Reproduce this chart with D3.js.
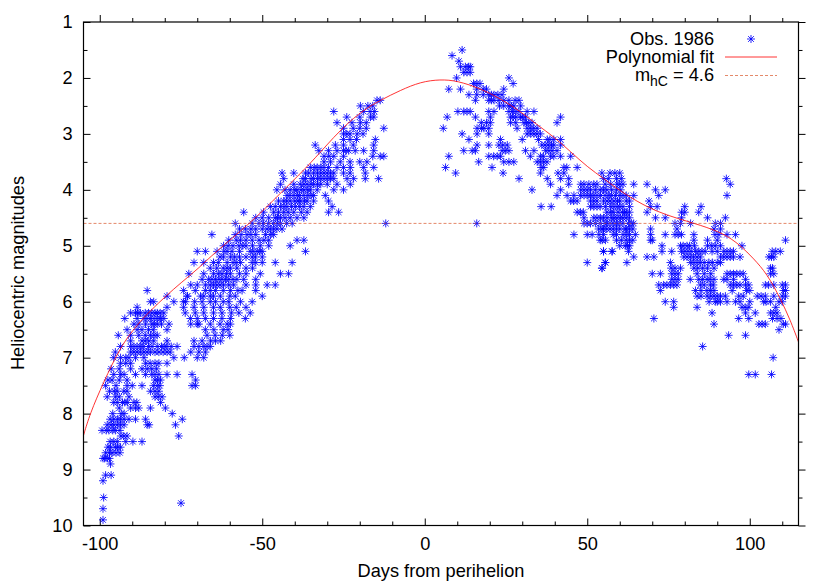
<!DOCTYPE html>
<html>
<head>
<meta charset="utf-8">
<script src="https://cdn.jsdelivr.net/npm/d3@7"></script>
<style>
    body { margin: 0; background: #fff; }
    text { font-family: "Liberation Sans", Arial, sans-serif; fill: #000; }
</style>
</head>
<body>
<div id="chart"></div>
<script>
// magnitudes were reported in 0.1 steps, so observations are kept per magnitude row
var preMags = [2.4,2.5,2.6,2.7,2.8,2.9,3.0,3.1,3.2,3.3,3.4,3.5,3.6,3.7,3.8,3.9,4.0,4.1,4.2,4.3,4.4,4.5,4.6,4.7,4.8,4.9,5.0,5.1,5.2,5.3,5.4,5.5,5.6,5.7,5.8,5.9,6.0,6.1,6.2,6.3,6.4,6.5,6.6,6.7,6.8,6.9,7.0,7.1,7.2,7.3,7.4,7.5,7.6,7.7,7.8,7.9,8.0,8.1,8.2,8.3,8.4,8.5,8.6,8.7,8.8,8.9,9.1,9.2,9.5,9.6,9.7,9.9]
var preDays = [
    [-14.7,-13.7],
    [-19.8,-17.5,-16],
    [-28,-18.8,-16.8,-15.5],
    [-24,-16.7,-15.7,-20],
    [-27,-22.4,-19.8,-18],
    [-25,-12.6,-18,-20,-22],
    [-25,-23,-20.8,-19,-24],
    [-25,-15.2,-23,-21],
    [-33.7,-27.5,-15.7,-25,-22],
    [-32.6,-29.6,-27,-23.4,-21.4,-18.8,-15.7,-25,-24.2],
    [-31,-28,-25,-13.7,-12.6,-16,-29.5],
    [-31,-29,-26,-17.8,-23,-20],
    [-35.2,-33.1,-31,-29.6,-22.9,-18.8,-15.7,-27,-25,-34,-32],
    [-43.9,-40.3,-35.7,-34.2,-32,-30,-28,-25,-23,-18.3,-36.7,-33,-31,-29],
    [-43.4,-36.7,-34.2,-32,-30,-23.9,-21.9,-18.3,-14.2,-35,-33,-28,-31,-29,-37.5],
    [-44.4,-40.3,-38.3,-36.2,-34.2,-30,-27,-22.9,-32,-35,-33,-37.2],
    [-45.5,-41.4,-39.3,-37.2,-35.2,-33.1,-28,-25,-43,-40,-38,-36],
    [-42.4,-40.3,-37.2,-34.2,-30.6,-38.5,-36,-41.5,-39.2,-35],
    [-43.4,-41.4,-38.3,-36.2,-34.2,-29.6,-40,-45,-42.5,-37,-39],
    [-47.5,-44.4,-42.4,-39.8,-37.2,-35.2,-28.5,-46,-41,-38.5,-43.3],
    [-55.7,-49.6,-46.5,-43.4,-40.3,-36.2,-29.6,-26.5,-38,-45,-42],
    [-52,-48,-44.4,-41.4,-39.3,-37.2,-46,-50,-43,-45.3],
    [-58.3,-53.1,-49.6,-46.5,-44.4,-40.8,-12,-42.5,-48,-51,-45.4],
    [-55.2,-52,-47.5,-45.5,-43.9,-50,-57,-53.5,-48.5,-46.5],
    [-65.5,-58.3,-54.7,-46.5,-52,-49,-56.5,-53.5,-47.5],
    [-60.3,-56.7,-53.1,-48,-39.3,-37.2,-51,-55,-58,-49.5],
    [-61.9,-57.2,-50.6,-48,-41.4,-55,-59,-53,-60.5,-56],
    [-70,-67.5,-63.9,-60.8,-59.3,-53.7,-51.6,-50,-36.7,-57,-52.8,-50.8,-61.8],
    [-61.9,-59.8,-53.1,-52.1,-57,-55,-50,-58.5,-63],
    [-71,-68,-65,-60.8,-56.7,-53.1,-46,-40.8,-59,-50,-63.5,-58,-52],
    [-66,-64,-59.8,-57.8,-62,-55,-60.8,-53],
    [-72.6,-68,-65,-62.4,-59.8,-50.6,-44.4,-41.9,-55,-57,-63.5,-61],
    [-66.5,-64.4,-62.4,-60.3,-57.8,-55.7,-68.5,-52,-65.5,-63.3,-61.3,-59],
    [-72,-67.5,-64,-61.9,-58.8,-52,-48.5,-46,-70,-55,-66,-63,-60.3,-65],
    [-74.2,-70.6,-66,-64.4,-59.8,-56.2,-52,-85.4,-62,-67.5,-57.5],
    [-73.1,-68,-62.9,-58.3,-50,-79.3,-73,-69,-66,-60,-65],
    [-74.2,-68.5,-64.4,-60.3,-53.1,-84.4,-77.2,-73.6,-56.7,-66,-70.8,-62,-83.4],
    [-74.2,-62.9,-88.5,-79.3,-68,-58,-55,-71,-65,-60],
    [-73.7,-70.6,-65,-62.4,-57.2,-53.7,-90.5,-89,-87.5,-82.3,-80.3,-86,-84,-88.3,-85,-83,-81.4,-68,-59.5],
    [-72.1,-67.5,-62.4,-59.8,-55.2,-92.3,-86.4,-84.4,-82.3,-80.3,-85.5,-83.3,-81.3,-88.5,-70,-65],
    [-72,-69.5,-59.8,-88,-85.9,-82.3,-78.7,-70,-60.8,-63,-84,-83.2,-81,-66,-89.5],
    [-91.6,-88.5,-79.3,-67.5,-64.9,-62,-85,-83.5,-87,-60.5],
    [-94.3,-90.5,-84.4,-82.3,-67,-62.3,-86,-64.5,-88,-83.3,-60],
    [-90.5,-84.9,-83.4,-79.3,-71,-65.9,-64.4,-87,-86,-68.5,-62.8],
    [-93.6,-90.5,-88.5,-83.9,-82.3,-79.3,-76.2,-71,-68,-86.5,-66,-89.5,-87.5,-85,-81,-80,-78,-69.5,-67],
    [-95.2,-90.5,-88.5,-86.4,-84.4,-81.8,-79.3,-72,-69.5,-67.5,-83,-87.5,-89.5,-85.4,-80.5,-78.3],
    [-95.7,-93.6,-92,-86.4,-77.2,-74,-70,-68,-91,-89],
    [-93.6,-90.5,-85.9,-79.3,-83,-84.5,-81.8,-92],
    [-87,-85.4,-82.5,-84,-96.5,-94,-90.5],
    [-95.7,-93.6,-89,-85.9,-81.8,-79.3,-76.2,-71.6,-84,-83,-92.5],
    [-96.2,-91.6,-81.3,-70.5,-94,-83,-82.2,-97.5],
    [-98.2,-91.6,-90,-87,-82.3,-71.6,-70.5,-95,-83.5,-81.5],
    [-94.6,-91.6,-84.4,-81.8,-97,-92.6,-95.5,-83],
    [-97.7,-95.2,-80.8,-83,-94,-82,-91],
    [-95.7,-94.6,-93,-89.5,-81.3,-91.5,-88.6,-92.3],
    [-90.5,-89,-84.4,-79.8,-94,-88],
    [-93.4,-77.7,-92.5,-96],
    [-95.7,-93.6,-91,-89,-85.9,-74.6,-94.5,-92.5,-96.8],
    [-97.7,-95.7,-93.6,-85.4,-76.7,-96.5,-84.8,-94.6,-92.5],
    [-99.3,-97.2,-95.2,-96,-98,-93.8],
    [-92.6,-91.6,-75.7,-93.5],
    [-95.7,-89.8,-87,-94.6,-92,-96.8],
    [-96.7,-95.2,-93.6,-97.5,-94.5],
    [-98.2,-96.2,-93.8,-97,-95],
    [-99,-97.7,-98.5,-97],
    [-96.7],
    [-98.2,-96.5],
    [-99],
    [-98.8],
    [-75],
    [-99],
    [-99]
]

var postMags = [1.5,1.6,1.7,1.8,1.9,2.0,2.1,2.2,2.3,2.4,2.5,2.6,2.7,2.8,2.9,3.0,3.1,3.2,3.3,3.4,3.5,3.6,3.7,3.8,3.9,4.0,4.1,4.2,4.3,4.4,4.5,4.6,4.7,4.8,4.9,5.0,5.1,5.2,5.3,5.4,5.5,5.6,5.7,5.8,5.9,6.0,6.1,6.2,6.3,6.4,6.5,6.6,6.8,7.0,7.3]
var postDays = [
    [11.5],
    [8.4],
    [10.5],
    [14,12.5,11,13.5],
    [12,14,13],
    [9.8,25.9],
    [27.2,17,15,16],
    [7.4,11,16,24.3,18,19],
    [13.6,16,19.7,21.3,23.8,18,20.5,22.5],
    [15.6,19.7,21.3,22.8,24.3,25.9,29,20.5,27.8],
    [24.3,25.9,27.4,29.5,23,26.6],
    [10.2,12,14,19.7,21.3,25.9,28,31.5,33.6,13,27,29],
    [6.9,15.6,20.2,26.4,28,29.5,41.8,31,27.2,30],
    [17.4,20.2,26.4,28,30.5,32,40.7,19,31.3,33],
    [5.7,16.1,18.2,19.7,28.4,32.5,34.6,31.5,33.5,17.5],
    [11.5,16.1,19.7,31.5,33.6,35.6,34.5,32.6],
    [13.6,23.3,30,37.7,39.7,41.8,35,38.5],
    [16.1,19.7,22.8,25.4,36,38,39.7,41.8,37,39,24],
    [12,14.6,23.8,25.9,31,33.6,37.2,39.2,40.7,15.6,24.8,38.2],
    [7.4,19.7,22.3,23.3,32.5,35.6,39.7,41.8,44.9,36.5,38.7,21.2],
    [16.6,24.3,25.9,27.4,34.6,36.6,35.6,37.6],
    [6.4,20.7,36.6,42.8,46.9,35.8,43.7],
    [9.5,24.1,35.6,41,42.8,57,60,54.5,58.5],
    [29,37.7,41.8,44.3,59,92.8,55,56.5,60.5],
    [38.7,44.3,49,52,57.2,59.2,61,64.3,68.4,94,48,50.5,53,55.5,60],
    [33,41.8,49,51,54,55,56,59,71,74,48,50,52.5,57.5,60.3],
    [40.7,43.8,45.9,47.9,50,52,54.1,56.6,58.7,60,62,64.3,72,93,49,51,53,55.5,57.5,61],
    [44.9,46.9,52,56.1,58.2,60,62,69,45.8,51,53,55,57,59.3,63],
    [35.8,38.9,51,53,57.2,59.2,61,63,69.5,71.5,80,85,52,54,55.6,58.2,60],
    [46.9,47.9,57.2,58,62,68.4,79,80,84.3,48.8,56,59.5,60.8,63,61.5],
    [49,52,54.1,56.1,59.2,61,63,71,74,79,87,92.5,53,55,57.5,58.3,60.2,62],
    [16,49,51,54,55.5,57,59,61,62.7,64.3,77,78.7,81.8,89.4,91,50,52.5,56,58,60,63.5],
    [54.6,55,57,59,60,61.7,63,69.5,77.6,89,91,53.5,56,58,62,64],
    [45.9,50,51.5,53.6,59,63,64.8,69.5,74,78,82.8,90.5,93,95.6,55,58,61,62,77,79,89.3],
    [54,59,54.6,63,70,82.8,87,90,111,60.5,62,69.5,55.6,64],
    [61.7,63,73,78.7,80.7,87,89.4,97.6,60,62.4,79.5,81.5,83,88.3,91],
    [55,57.7,55,57.6,62.7,73,76,79,81,83.3,85.3,88.4,94,106.9,109.4,80,82,84.3,86.3,90,92,93,95,108],
    [64.3,68.4,70.5,79.7,81.7,83.8,84.8,91,93,95,97,105.9,107.4,80.7,82.7,92,94,106.7],
    [50,55.6,55.5,62.2,75.6,82.8,84.8,87.4,90,81.8,83.8,86,88.5,91],
    [54.6,54.5,77,78.7,82.8,106.4,75.8,84,85.5,87,89,107],
    [70,72.5,77,93,95,97,98,106.4,76,78,83.8,86,88,94,96,107.4],
    [77,81.7,84.3,86.9,89,92,98.7,76,78,85.5,87.8,93,95],
    [72,73.5,75.6,77.6,84.8,87.9,94,96,99.7,104.8,107.4,111,74.5,76.6,86,88.8,95,97,98.7,105.8,110],
    [72.5,83.3,87.9,94.6,100,111,85,86.8,89,99,110.4],
    [83.8,86.9,90,92.5,96.6,102.3,104.8,107.4,111,85,88,89,91,98,103.5,110],
    [74,76.6,89.4,91,95.6,100,104.3,106.4,110,87.5,90,93,97,105,109],
    [76.6,83.8,97.6,99.7,98.6,108],
    [88.4,98.7,101.7,107.4,106.4,108.4],
    [70.5,96.6,99.7,108.4,107,109.6],
    [89,102.8,103.8,111,110.3,104.8],
    [109],
    [93.5,98.7],
    [85.5],
    [107.2],
    [99.7,101.7,106.7]
]

var fitDays = [-105,-103,-99,-93.6,-88.5,-84.4,-79.3,-75.2,-69.5,-65,-53.7,-44.4,-36.2,-31.1,-25,-18.8,-13.7,-7.5,-1.3,4.8,10,17.2,23.3,29.5,34.6,39.7,44.9,50,55.1,59.2,65.3,71.5,77.6,84.8,92,97.1,101.2,105.3,109.4,112.5,115]
var fitMags = [8.39,8.0,7.46,6.8,6.41,6.16,5.88,5.67,5.4,5.14,4.6,4.06,3.59,3.26,2.87,2.57,2.4,2.22,2.07,2.025,2.05,2.19,2.37,2.6,2.84,3.05,3.32,3.59,3.8,3.98,4.21,4.39,4.51,4.63,4.78,4.99,5.23,5.5,5.94,6.33,6.72]

var xMajor = [-100,-50,0,50,100]
var xMinor = [-90,-80,-70,-60,-40,-30,-20,-10,10,20,30,40,60,70,80,90,110]
var yMajor = [1,2,3,4,5,6,7,8,9,10]
var yMinor = [1.5,2.5,3.5,4.5,5.5,6.5,7.5,8.5,9.5]
var hcMag = 4.6

var legendLabels = ["Obs. 1986", "Polynomial fit"]

var fontSize = "18.2px"
var margin = { left: 83.5, right: 31.5, top: 22, bottom: 55.5 }
var width = 830 - margin.left - margin.right,
    height = 581 - margin.top - margin.bottom

var svg = d3.select("#chart")
    .append("svg")
        .attr("width", 830)
        .attr("height", 581)

var g = svg.append("g")
    .attr("transform", "translate(" + margin.left + "," + margin.top + ")")

var x = d3.scaleLinear().domain([-105, 115]).range([0, width])
var y = d3.scaleLinear().domain([1, 10]).range([0, height])

// gnuplot style ticks: inward, mirrored on the far sides
function drawAxis(axisFn, scale, values, size, shift, padding){
    var axis = axisFn(scale)
        .tickValues(values)
        .tickSizeOuter(0)
        .tickSizeInner(-size)
        .tickPadding(padding || 0)
    // plain hyphen for the negative labels, and no labels at all without padding
    axis.tickFormat(padding ? d => String(d) : "")
    var a = g.append("g")
        .attr("transform", shift)
        .call(axis)
    a.select(".domain").remove()
    a.selectAll(".tick line").attr("stroke", "#000").attr("stroke-width", 1)
    a.selectAll("text").style("font-size", fontSize).attr("fill", "#000")
    return a
}

var bottom = "translate(0," + height + ")"
drawAxis(d3.axisBottom, x, xMajor, 7, bottom, 12)
drawAxis(d3.axisBottom, x, xMinor, 4, bottom)
drawAxis(d3.axisTop, x, xMajor, -7, "translate(0,0)")
drawAxis(d3.axisTop, x, xMinor, -4, "translate(0,0)")
drawAxis(d3.axisLeft, y, yMajor, 7, "translate(0,0)", 11)
drawAxis(d3.axisLeft, y, yMinor, 4, "translate(0,0)")
drawAxis(d3.axisRight, y, yMajor, -7, "translate(" + width + ",0)")
drawAxis(d3.axisRight, y, yMinor, -4, "translate(" + width + ",0)")

// the star marker, + and x on top of each other
var starSymbol = {
    draw: function(context, size){
        var r = Math.sqrt(size)
        var d = r * 0.72
        context.moveTo(-r, 0); context.lineTo(r, 0)
        context.moveTo(0, -r); context.lineTo(0, r)
        context.moveTo(-d, -d); context.lineTo(d, d)
        context.moveTo(-d, d); context.lineTo(d, -d)
    }
}
var star = d3.symbol().type(starSymbol).size(16)

var obs = []
preMags.forEach(function(m, i){
    preDays[i].forEach(function(day){ obs.push({ day: day, mag: m }) })
})
postMags.forEach(function(m, i){
    postDays[i].forEach(function(day){ obs.push({ day: day, mag: m }) })
})

g.selectAll(".obs")
    .data(obs)
    .enter()
    .append("path")
        .attr("class", "obs")
        .attr("d", star)
        .attr("transform", d => "translate(" + x(d.day) + "," + y(d.mag) + ")")
        .attr("fill", "none")
        .attr("stroke", "#0000ff")
        .attr("stroke-width", 0.85)

var fitLine = d3.line()
    .x(d => x(d[0]))
    .y(d => y(d[1]))
    .curve(d3.curveBasis)

g.append("path")
    .datum(d3.zip(fitDays, fitMags))
    .attr("d", fitLine)
    .attr("fill", "none")
    .attr("stroke", "#ff0000")
    .attr("stroke-width", 0.8)

g.append("line")
    .attr("x1", x(-105))
    .attr("x2", x(115))
    .attr("y1", y(hcMag))
    .attr("y2", y(hcMag))
    .attr("stroke", "#d8562a")
    .attr("stroke-width", 0.7)
    .attr("stroke-dasharray", "3,2")

g.append("rect")
    .attr("width", width)
    .attr("height", height)
    .attr("fill", "none")
    .attr("stroke", "#000")
    .attr("stroke-width", 1.2)

// legend
var legendX = 714
svg.append("text")
    .attr("x", legendX).attr("y", 45)
    .attr("text-anchor", "end")
    .style("font-size", fontSize)
    .text(legendLabels[0])

svg.append("path")
    .attr("d", star)
    .attr("transform", "translate(751,39)")
    .attr("fill", "none")
    .attr("stroke", "#0000ff")
    .attr("stroke-width", 0.85)

svg.append("text")
    .attr("x", legendX).attr("y", 63)
    .attr("text-anchor", "end")
    .style("font-size", fontSize)
    .text(legendLabels[1])

svg.append("line")
    .attr("x1", 725).attr("x2", 777)
    .attr("y1", 57).attr("y2", 57)
    .attr("stroke", "#ff0000")
    .attr("stroke-width", 0.8)

var hcLabel = svg.append("text")
    .attr("x", legendX).attr("y", 81)
    .attr("text-anchor", "end")
    .style("font-size", fontSize)
hcLabel.append("tspan").text("m")
hcLabel.append("tspan").attr("dy", 5).style("font-size", "14px").text("hC")
hcLabel.append("tspan").attr("dy", -5).text(" = " + hcMag)

svg.append("line")
    .attr("x1", 725).attr("x2", 777)
    .attr("y1", 75.5).attr("y2", 75.5)
    .attr("stroke", "#d8562a")
    .attr("stroke-width", 0.7)
    .attr("stroke-dasharray", "3,2")

// axis titles
svg.append("text")
    .attr("x", 441)
    .attr("y", 577)
    .attr("text-anchor", "middle")
    .style("font-size", fontSize)
    .text("Days from perihelion")

svg.append("text")
    .attr("transform", "translate(24,273) rotate(-90)")
    .attr("text-anchor", "middle")
    .style("font-size", fontSize)
    .text("Heliocentric magnitudes")
</script>
</body>
</html>
